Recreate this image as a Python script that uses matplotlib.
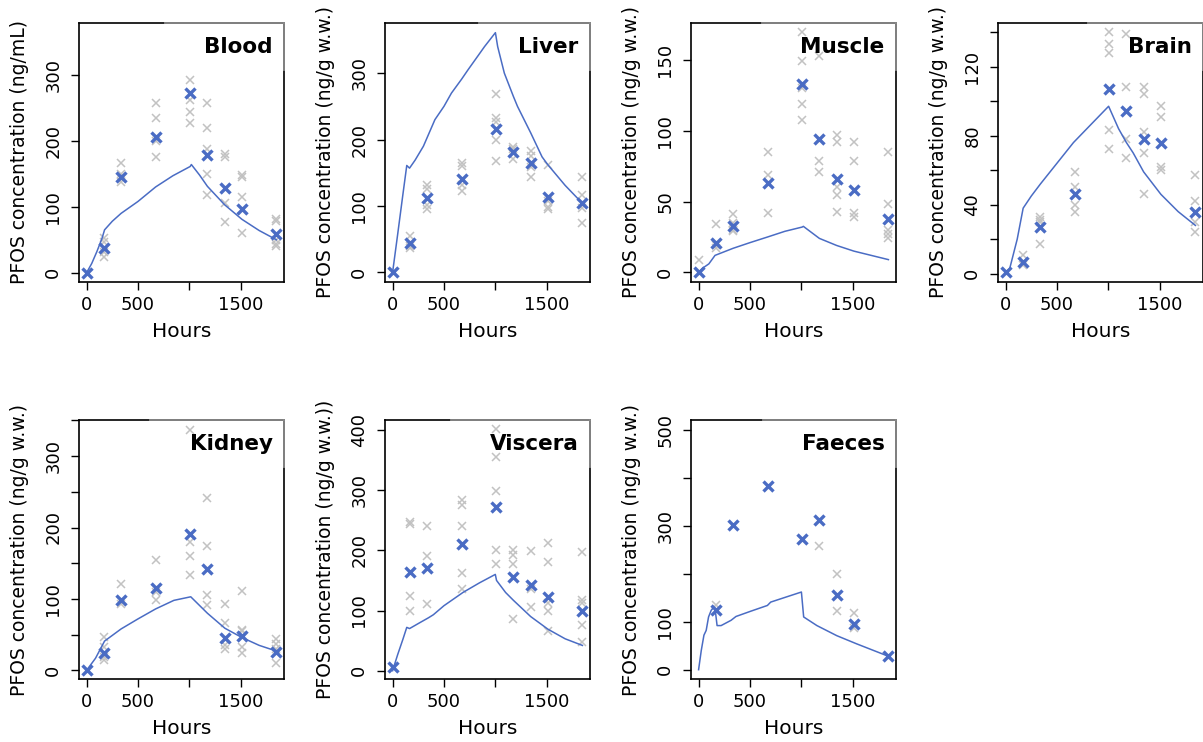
import matplotlib
matplotlib.use("Agg")
import matplotlib.pyplot as plt

# ---------------- data ----------------
times = [0, 168, 336, 672, 1008, 1176, 1344, 1512, 1848]

blood_mean = [0, 38, 145, 205, 273, 179, 128, 97, 58]
blood_reps = [[], [52, 46, 31, 24], [167, 150, 137], [257, 235, 200, 175],
              [292, 262, 243, 227], [257, 219, 187, 150, 118], [180, 176, 105, 77],
              [148, 145, 115, 60], [82, 79, 50, 44, 40]]
blood_line_t = [0, 50, 100, 150, 175, 250, 336, 500, 672, 840, 1008, 1020, 1100, 1176, 1344, 1512, 1680, 1848]
blood_line_y = [0, 14, 32, 52, 65, 78, 90, 108, 130, 147, 161, 164, 148, 131, 103, 81, 64, 50]

liver_mean = [0, 44, 112, 141, 216, 182, 164, 113, 104]
liver_reps = [[], [55, 40, 37], [132, 125, 102, 96], [165, 160, 132, 122],
              [269, 232, 226, 199, 167], [189, 186, 171], [183, 175, 159, 143],
              [161, 107, 99, 95], [143, 117, 97, 75]]
liver_line_t = [0, 50, 100, 138, 165, 219, 300, 412, 500, 573, 672, 734, 840, 895, 1001, 1023, 1088, 1176, 1216, 1345, 1455, 1512, 1680, 1848]
liver_line_y = [0, 58, 117, 161, 157, 169, 190, 230, 250, 270, 291, 305, 328, 340, 361, 340, 300, 265, 250, 210, 174, 162, 131, 104]

muscle_mean = [0, 21, 33, 63, 133, 94, 66, 58, 38]
muscle_reps = [[9], [34, 19, 17], [41, 35, 30, 29], [85, 69, 42],
               [170, 149, 130, 119, 108], [153, 79, 71], [97, 92, 60, 55, 43],
               [92, 79, 42, 39], [85, 48, 30, 27, 24]]
muscle_line_t = [0, 40, 100, 160, 336, 500, 672, 840, 1008, 1020, 1176, 1344, 1512, 1680, 1848]
muscle_line_y = [0, 3, 6, 12, 17, 21, 25, 29, 32, 32.5, 24, 19, 15, 12, 9]

brain_mean = [1, 7, 27, 46, 107, 94, 78, 76, 36]
brain_reps = [[], [11, 7, 5], [33, 31, 30, 17], [59, 50, 40, 36],
              [140, 133, 128, 83, 72], [139, 108, 78, 67], [108, 104, 82, 70, 46],
              [97, 91, 62, 60], [57, 42, 30, 24]]
brain_line_t = [0, 40, 113, 171, 250, 339, 500, 661, 840, 1003, 1100, 1176, 1242, 1344, 1512, 1680, 1848]
brain_line_y = [1, 3, 20, 38, 45, 52, 64, 76, 87, 97, 84, 76, 70, 59, 46, 36, 28]

kidney_mean = [0, 25, 99, 116, 191, 142, 46, 48, 26]
kidney_reps = [[], [47, 33, 19, 15], [121, 93], [154, 110, 98],
               [337, 180, 160, 133], [242, 174, 106, 91], [93, 67, 36, 30],
               [111, 57, 55, 33, 24], [44, 37, 30, 11]]
kidney_line_t = [0, 87, 175, 336, 500, 672, 850, 1014, 1176, 1346, 1512, 1680, 1848]
kidney_line_y = [0, 17, 41, 58, 72, 86, 98, 103, 80, 59, 46, 35, 27]

viscera_mean = [5.5, 164, 170, 210, 272, 156, 142, 123, 99]
viscera_reps = [[], [247, 244, 124, 100], [240, 190, 111], [284, 276, 241, 162, 135],
                [402, 355, 298, 200, 177], [201, 192, 177, 86], [199, 135, 106],
                [212, 181, 113, 100, 66], [198, 118, 113, 76, 47]]
viscera_line_t = [0, 50, 100, 138, 165, 267, 350, 397, 500, 685, 846, 1000, 1012, 1100, 1176, 1344, 1512, 1680, 1848]
viscera_line_y = [0, 27, 52, 72, 70, 80, 88, 93, 108, 130, 146, 160, 150, 130, 117, 90, 69, 53, 42]

faeces_mean = [None, 124, 302, 383, 273, 313, 156, 96, 28]
faeces_reps = [[], [134], [], [], [], [257], [200, 122], [119, 87], []]
faeces_line_t = [0, 26, 52, 74, 97, 123, 148, 160, 180, 219, 316, 364, 508, 670, 702, 830, 1001, 1023, 1152, 1345, 1538, 1848]
faeces_line_y = [0, 40, 72, 82, 110, 124, 130, 128, 92, 92, 103, 111, 122, 134, 141, 150, 162, 110, 92, 71, 54, 28]

organs = ["Blood", "Liver", "Muscle", "Brain", "Kidney", "Viscera", "Faeces"]
ylabels = ["PFOS concentration (ng/mL)", "PFOS concentration (ng/g w.w.)",
           "PFOS concentration (ng/g w.w.)", "PFOS concentration (ng/g w.w.)",
           "PFOS concentration (ng/g w.w.)", "PFOS concentration (ng/g w.w.))",
           "PFOS concentration (ng/g w.w.)"]
means = [blood_mean, liver_mean, muscle_mean, brain_mean, kidney_mean, viscera_mean, faeces_mean]
reps = [blood_reps, liver_reps, muscle_reps, brain_reps, kidney_reps, viscera_reps, faeces_reps]
lines_t = [blood_line_t, liver_line_t, muscle_line_t, brain_line_t, kidney_line_t, viscera_line_t, faeces_line_t]
lines_y = [blood_line_y, liver_line_y, muscle_line_y, brain_line_y, kidney_line_y, viscera_line_y, faeces_line_y]

y_ticks = [[0, 100, 200, 300], [0, 100, 200, 300], [0, 50, 100, 150],
           [0, 20, 40, 60, 80, 100, 120, 140], [0, 50, 100, 150, 200, 250, 300, 350],
           [0, 100, 200, 300, 400], [0, 100, 200, 300, 400, 500]]
y_ticklabels = [["0", "100", "200", "300"], ["0", "100", "200", "300"],
                ["0", "50", "100", "150"],
                ["0", "", "40", "", "80", "", "120", ""],
                ["0", "", "100", "", "200", "", "300", ""],
                ["0", "100", "200", "300", "400"],
                ["0", "100", "", "300", "", "500"]]
x_ticks = [0, 500, 1000, 1500]
x_ticklabels = ["0", "500", "", "1500"]
x_label = "Hours"

# ---------------- layout / style ----------------
W, H = 1203, 742
ylims = [(-13.6, 379), (-14, 376), (-6.6, 176.4), (-4.6, 145.4),
         (-12.1, 350.5), (-13.8, 416.6), (-19.4, 520.8)]
xlim = (-73.9, 1921.9)
col_left = [79, 385, 691, 998]
row_top = [22.7, 420]
aw, ah = 205, 259
legend_left = [0.42, 0.46, 0.345, 0.44, 0.345, 0.32, 0.35]

blue = "#4a6cc4"
grey = "#c2c2c2"

plt.rcParams["font.family"] = "DejaVu Sans"
fig = plt.figure(figsize=(W / 100, H / 100), dpi=100)

for i, organ in enumerate(organs):
    r, c = divmod(i, 4)
    left = col_left[c] / W
    bottom = 1 - (row_top[r] + ah) / H
    ax = fig.add_axes([left, bottom, aw / W, ah / H])

    # replicates
    for t, vals in zip(times, reps[i]):
        if vals:
            ax.plot([t] * len(vals), vals, linestyle="none", marker="x",
                    color=grey, markersize=5.6, markeredgewidth=1.1, zorder=2)
    # model line
    ax.plot(lines_t[i], lines_y[i], color=blue, linewidth=1.1, zorder=3)
    # means
    mt = [t for t, m in zip(times, means[i]) if m is not None]
    mv = [m for m in means[i] if m is not None]
    ax.plot(mt, mv, linestyle="none", marker="x", color=blue,
            markersize=6.8, markeredgewidth=2.4, zorder=4)

    ax.set_xlim(*xlim)
    ax.set_ylim(*ylims[i])
    ax.set_xticks(x_ticks)
    ax.set_xticklabels(x_ticklabels)
    ax.set_yticks(y_ticks[i])
    ax.set_yticklabels(y_ticklabels[i], rotation=90, va="center")
    ax.tick_params(axis="both", direction="out", length=6, width=1.0,
                   labelsize=13, colors="black")
    ax.tick_params(axis="x", pad=4)
    ax.tick_params(axis="y", pad=6)
    for sp in ax.spines.values():
        sp.set_linewidth(1.2)
        sp.set_color("black")

    ax.set_xlabel(x_label, fontsize=14.5)
    ax.xaxis.set_label_coords(0.5, -40 / ah)
    ax.set_ylabel(ylabels[i], fontsize=13.5)
    ax.yaxis.set_label_coords(-50 / aw, 0.5)

    ax.text(0.944, 0.907, organ, transform=ax.transAxes, ha="right",
            va="center", fontsize=15.5, fontweight="bold")

    # lighter border segments of the legend box in the top-right corner
    ax.plot([legend_left[i], 1], [1, 1], transform=ax.transAxes,
            color="#8a8a8a", linewidth=1.3, clip_on=False, zorder=5)
    ax.plot([1, 1], [0.817, 1], transform=ax.transAxes,
            color="#8a8a8a", linewidth=1.3, clip_on=False, zorder=5)

fig.savefig("out.png", dpi=100, facecolor="white")
